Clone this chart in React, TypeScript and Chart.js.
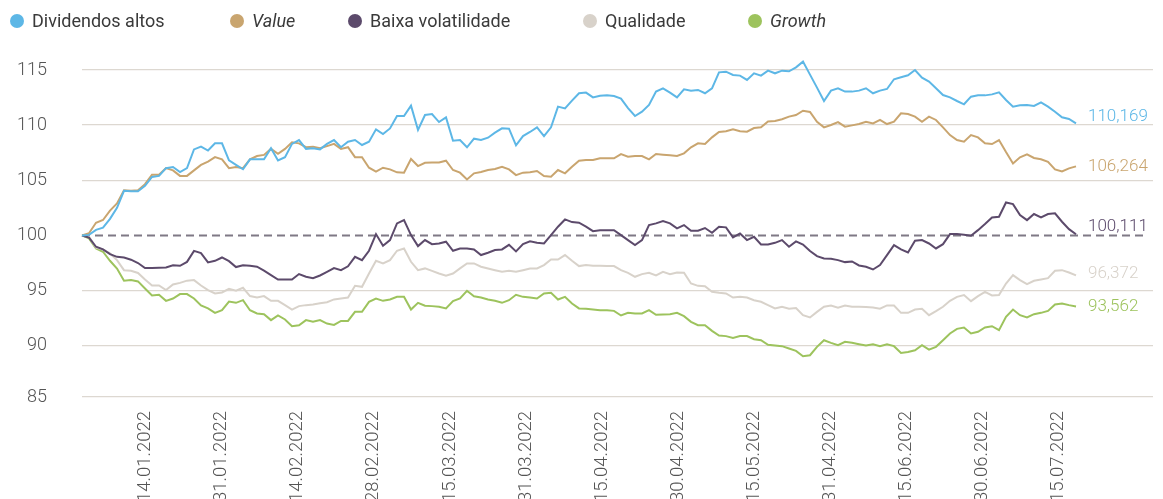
import React, { useEffect, useRef } from 'react';
import { Chart, registerables } from 'chart.js';

Chart.register(...registerables);

const SERIES_NAMES = ['Dividendos altos', 'Value', 'Baixa volatilidade', 'Qualidade', 'Growth'];
const SERIES_ITALIC = [false, true, false, false, true];

const DIVIDENDOS_ALTOS = [
  100.0, 100.05, 100.5, 100.7, 101.5, 102.5, 104.05, 104.0, 104.0, 104.5,
  105.3, 105.4, 106.1, 106.2, 105.75, 106.1, 107.8, 108.05, 107.7, 108.35,
  108.35, 106.8, 106.4, 106.0, 106.9, 106.9, 106.9, 107.9, 106.8, 107.1,
  108.3, 108.65, 107.85, 107.9, 107.8, 108.3, 108.65, 108.0, 108.5, 108.65,
  108.2, 108.5, 109.62, 109.2, 109.7, 110.83, 110.83, 111.77, 109.56, 110.92,
  111.01, 110.28, 110.7, 108.59, 108.65, 107.99, 108.77, 108.65, 108.86, 109.32,
  109.71, 109.68, 108.17, 109.01, 109.38, 109.8, 109.01, 109.8, 111.68, 111.52,
  112.22, 112.89, 112.95, 112.52, 112.67, 112.7, 112.64, 112.4, 111.55, 110.83,
  111.22, 111.83, 113.04, 113.34, 112.95, 112.52, 113.25, 113.13, 113.19, 112.89,
  113.34, 114.79, 114.85, 114.55, 114.49, 114.1, 114.7, 114.49, 114.94, 114.7,
  114.94, 114.88, 115.24, 115.76, 114.58, 113.4, 112.19, 113.13, 113.34, 113.04,
  113.04, 113.13, 113.34, 112.89, 113.13, 113.28, 114.16, 114.34, 114.52, 115.0,
  114.31, 113.95, 113.34, 112.73, 112.52, 112.19, 111.89, 112.58, 112.7, 112.7,
  112.79, 112.98, 112.28, 111.68, 111.8, 111.83, 111.74, 112.07, 111.68, 111.22,
  110.71, 110.56, 110.169,
];

const VALUE = [
  100.0, 100.2, 101.15, 101.4, 102.25, 102.9, 104.1, 104.05, 104.1, 104.65,
  105.5, 105.5, 106.1, 105.9, 105.4, 105.4, 105.9, 106.4, 106.7, 107.1,
  106.9, 106.1, 106.2, 106.1, 106.9, 107.2, 107.3, 107.85, 107.4, 107.85,
  108.45, 108.35, 108.0, 108.05, 107.9, 108.1, 108.3, 107.85, 108.0, 107.1,
  107.1, 106.14, 105.78, 106.14, 105.99, 105.72, 105.69, 106.93, 106.29, 106.59,
  106.62, 106.62, 106.78, 105.93, 105.69, 105.08, 105.63, 105.75, 105.93, 106.02,
  106.23, 105.99, 105.47, 105.69, 105.72, 105.84, 105.38, 105.32, 105.93, 105.63,
  106.23, 106.78, 106.84, 106.84, 106.99, 106.99, 106.99, 107.38, 107.14, 107.2,
  107.2, 106.9, 107.38, 107.32, 107.26, 107.2, 107.44, 107.99, 108.35, 108.29,
  108.89, 109.38, 109.44, 109.62, 109.44, 109.41, 109.74, 109.8, 110.34, 110.37,
  110.53, 110.77, 110.92, 111.31, 111.19, 110.31, 109.8, 110.01, 110.28, 109.86,
  109.98, 110.1, 110.31, 110.16, 110.47, 110.1, 110.31, 111.07, 111.01, 110.77,
  110.31, 110.77, 110.47, 109.8, 109.1, 108.65, 108.5, 109.1, 108.89, 108.35,
  108.29, 108.65, 107.56, 106.53, 107.08, 107.35, 107.02, 106.9, 106.68, 105.99,
  105.81, 106.08, 106.264,
];

const BAIXA_VOLATILIDADE = [
  100.0, 99.8, 98.97, 98.73, 98.3, 98.06, 98.0, 97.8, 97.5, 97.04,
  97.04, 97.07, 97.1, 97.3, 97.25, 97.6, 98.6, 98.4, 97.55, 97.7,
  98.0, 97.67, 97.13, 97.3, 97.25, 97.16, 96.8, 96.4, 96.0, 96.0,
  96.0, 96.5, 96.25, 96.13, 96.37, 96.7, 97.04, 96.85, 97.2, 98.06,
  97.76, 98.61, 100.12, 99.06, 99.58, 101.09, 101.39, 100.03, 99.03, 99.58,
  99.21, 99.27, 99.43, 98.61, 98.82, 98.82, 98.73, 98.22, 98.43, 98.67,
  98.73, 99.15, 98.55, 99.21, 99.46, 99.33, 99.27, 100.03, 100.79, 101.45,
  101.21, 101.15, 100.79, 100.39, 100.48, 100.48, 100.48, 100.03, 99.58, 99.12,
  99.58, 100.94, 101.09, 101.3, 101.09, 100.64, 100.94, 100.42, 100.42, 100.67,
  100.24, 100.79, 100.73, 99.82, 100.18, 99.58, 99.88, 99.18, 99.18, 99.33,
  99.58, 98.97, 99.46, 99.18, 98.58, 98.12, 97.91, 97.88, 97.76, 97.58,
  97.64, 97.28, 97.16, 96.91, 97.31, 98.22, 99.12, 98.73, 98.46, 99.52,
  99.58, 99.27, 98.82, 99.21, 100.12, 100.12, 100.06, 99.97, 100.48, 101.03,
  101.63, 101.69, 102.99, 102.84, 101.85, 101.39, 101.94, 101.63, 101.94, 102.0,
  101.24, 100.57, 100.111,
];

const QUALIDADE = [
  100.0, 99.88, 98.9, 98.73, 98.37, 97.76, 96.85, 96.8, 96.6, 96.0,
  95.46, 95.46, 95.04, 95.55, 95.7, 95.9, 95.95, 95.46, 95.04, 94.74,
  94.83, 95.16, 94.98, 95.25, 94.5, 94.37, 94.5, 94.07, 94.07, 93.68,
  93.28, 93.59, 93.68, 93.74, 93.86, 93.95, 94.2, 94.28, 94.37, 95.43,
  95.34, 96.55, 97.7, 97.46, 97.76, 98.61, 98.82, 97.61, 96.85, 97.01,
  96.79, 96.55, 96.34, 96.55, 97.01, 97.46, 97.46, 97.16, 97.01, 96.85,
  96.7, 96.79, 96.7, 96.85, 97.01, 97.01, 97.31, 97.82, 97.82, 98.22,
  97.7, 97.22, 97.31, 97.25, 97.25, 97.22, 97.22, 96.85, 96.61, 96.25,
  96.49, 96.61, 96.37, 96.7, 96.49, 96.64, 96.61, 95.64, 95.43, 95.4,
  94.89, 94.8, 94.74, 94.37, 94.43, 94.37, 94.13, 93.98, 93.68, 93.38,
  93.53, 93.35, 93.41, 92.77, 92.56, 93.07, 93.53, 93.65, 93.44, 93.65,
  93.53, 93.53, 93.5, 93.47, 93.35, 93.65, 93.65, 92.98, 92.98, 93.28,
  93.35, 92.77, 93.13, 93.53, 94.07, 94.43, 94.59, 94.04, 94.5, 94.89,
  94.56, 94.59, 95.64, 96.4, 95.95, 95.58, 95.89, 96.01, 96.13, 96.79,
  96.85, 96.64, 96.372,
];

const GROWTH = [
  100.0, 99.73, 98.82, 98.52, 97.7, 97.0, 95.89, 95.95, 95.83, 95.19,
  94.56, 94.62, 94.07, 94.28, 94.68, 94.68, 94.28, 93.65, 93.38, 92.98,
  93.22, 94.0, 93.89, 94.13, 93.22, 92.92, 92.86, 92.32, 92.74, 92.38,
  91.77, 91.86, 92.32, 92.17, 92.32, 92.01, 91.89, 92.25, 92.25, 93.07,
  93.07, 93.98, 94.28, 94.07, 94.19, 94.43, 94.43, 93.28, 93.89, 93.62,
  93.59, 93.53, 93.38, 94.04, 94.28, 94.98, 94.49, 94.37, 94.19, 94.07,
  93.89, 94.13, 94.62, 94.43, 94.37, 94.28, 94.74, 94.8, 94.19, 94.43,
  93.83, 93.38, 93.35, 93.28, 93.22, 93.22, 93.16, 92.74, 92.98, 92.92,
  92.92, 93.22, 92.8, 92.83, 92.86, 92.98, 92.68, 92.17, 91.86, 91.86,
  91.35, 90.93, 90.87, 90.71, 90.87, 90.87, 90.59, 90.5, 90.08, 90.02,
  89.96, 89.75, 89.53, 89.05, 89.14, 89.9, 90.5, 90.26, 90.05, 90.35,
  90.26, 90.14, 90.02, 90.14, 89.96, 90.14, 89.96, 89.35, 89.44, 89.59,
  90.05, 89.65, 89.9, 90.5, 91.11, 91.53, 91.65, 91.11, 91.26, 91.65,
  91.77, 91.41, 92.62, 93.28, 92.77, 92.56, 92.86, 92.98, 93.16, 93.74,
  93.83, 93.68, 93.562,
];

const X_TICK_LABELS = [
  '14.01.2022', '31.01.2022', '14.02.2022', '28.02.2022', '15.03.2022', '31.03.2022',
  '15.04.2022', '30.04.2022', '15.05.2022', '31.04.2022', '15.06.2022', '30.06.2022', '15.07.2022',
];

const Y_TICKS = [85, 90, 95, 100, 105, 110, 115];
const BASELINE = 100;

const SERIES_VALUES = [DIVIDENDOS_ALTOS, VALUE, BAIXA_VOLATILIDADE, QUALIDADE, GROWTH];
const COLORS = ['#5db7e6', '#c9a56f', '#5c4a6b', '#d8d2ca', '#9dc35d'];

const FONT = 'Roboto, "Noto Sans", sans-serif';

export default function App() {
  const canvasRef = useRef<HTMLCanvasElement | null>(null);

  useEffect(() => {
    document.body.style.margin = '0';
    document.body.style.overflow = 'hidden';
    document.documentElement.style.overflow = 'hidden';
    const canvas = canvasRef.current;
    if (!canvas) return;

    const xMax = 153;
    const yMin = 85.35;
    const firstTick = 9.1;
    const tickStep = 10.864;

    const legendPlugin = {
      id: 'customLegend',
      afterDraw(chart: any) {
        const ctx = chart.ctx;
        const centers = [17, 237, 355, 590, 755];
        ctx.save();
        chart.data.datasets.forEach((ds: any, i: number) => {
          const cx = centers[i];
          const cy = 21;
          ctx.beginPath();
          ctx.arc(cx, cy, 7, 0, Math.PI * 2);
          ctx.fillStyle = ds.borderColor;
          ctx.fill();
          ctx.font = (SERIES_ITALIC[i] ? 'italic ' : '') + '400 18px ' + FONT;
          ctx.fillStyle = '#3a3a3a';
          ctx.textAlign = 'left';
          ctx.textBaseline = 'middle';
          ctx.fillText(ds.label, cx + 15, cy + 1.5);
        });
        ctx.restore();
      },
    };

    const baselinePlugin = {
      id: 'baseline',
      beforeDatasetsDraw(chart: any) {
        const ctx = chart.ctx;
        const y = chart.scales.y.getPixelForValue(BASELINE);
        const { left, right } = chart.chartArea;
        ctx.save();
        ctx.strokeStyle = '#7f7985';
        ctx.lineWidth = 1.8;
        ctx.setLineDash([8, 5]);
        ctx.beginPath();
        ctx.moveTo(left, Math.round(y) + 0.5);
        ctx.lineTo(right - 7, Math.round(y) + 0.5);
        ctx.stroke();
        ctx.restore();
      },
    };

    const endLabelPlugin = {
      id: 'endLabels',
      afterDatasetsDraw(chart: any) {
        const ctx = chart.ctx;
        const offsets = [-7, 0, -7, -2, 0];
        ctx.save();
        ctx.font = '300 17px ' + FONT;
        ctx.textAlign = 'left';
        ctx.textBaseline = 'middle';
        chart.data.datasets.forEach((ds: any, i: number) => {
          const meta = chart.getDatasetMeta(i);
          const pt = meta.data[meta.data.length - 1];
          const v = ds.data[ds.data.length - 1].y;
          ctx.fillStyle = ds.borderColor;
          ctx.fillText(v.toFixed(3).replace('.', ','), pt.x + 12, pt.y + offsets[i]);
        });
        ctx.restore();
      },
    };

    const xLabelPlugin = {
      id: 'xLabels',
      afterDraw(chart: any) {
        const ctx = chart.ctx;
        const xs = chart.scales.x;
        const top = chart.chartArea.bottom + 14;
        ctx.save();
        ctx.font = '300 18.5px ' + FONT;
        ctx.fillStyle = '#555555';
        ctx.textAlign = 'right';
        ctx.textBaseline = 'middle';
        X_TICK_LABELS.forEach((lab, k) => {
          const px = xs.getPixelForValue(firstTick + k * tickStep);
          ctx.save();
          ctx.translate(px, top);
          ctx.rotate(-Math.PI / 2);
          ctx.fillText(lab, 0, 0);
          ctx.restore();
        });
        ctx.restore();
      },
    };

    const chart = new Chart(canvas, {
      type: 'line',
      data: {
        datasets: SERIES_VALUES.map((vals, i) => ({
          label: SERIES_NAMES[i],
          data: vals.map((v, idx) => ({ x: idx, y: v })),
          borderColor: COLORS[i],
          backgroundColor: COLORS[i],
          borderWidth: 2,
          pointRadius: 0,
          tension: 0,
          fill: false,
          clip: false,
        })),
      },
      options: {
        responsive: true,
        maintainAspectRatio: false,
        animation: false,
        layout: { padding: { top: 70, right: 10, left: 0, bottom: 123 } },
        plugins: {
          legend: { display: false },
          tooltip: { enabled: false },
          title: { display: false },
        },
        scales: {
          x: {
            type: 'linear',
            display: false,
            min: 0,
            max: xMax,
          },
          y: {
            type: 'linear',
            min: yMin,
            max: 115,
            afterFit(scale: any) {
              scale.width = 82;
            },
            afterBuildTicks(scale: any) {
              scale.ticks = Y_TICKS.map((t, k) => ({ value: k === 0 ? yMin : t }));
            },
            ticks: {
              padding: 35,
              color: '#555555',
              font: { family: FONT, size: 18, weight: '300' },
              callback: (_v: any, idx: number) => String(Y_TICKS[idx]),
            },
            grid: {
              drawTicks: false,
              color: (c: any) => (c.tick && Math.abs(c.tick.value - BASELINE) < 0.001 ? 'rgba(0,0,0,0)' : '#ddd8d1'),
              lineWidth: 1.3,
            },
            border: { display: false },
          },
        },
      },
      plugins: [baselinePlugin, endLabelPlugin, legendPlugin, xLabelPlugin],
    } as any);

    return () => {
      chart.destroy();
    };
  }, []);

  return (
    <div style={{ position: 'relative', width: '1163px', height: '520px' }}>
      <canvas ref={canvasRef} />
    </div>
  );
}
